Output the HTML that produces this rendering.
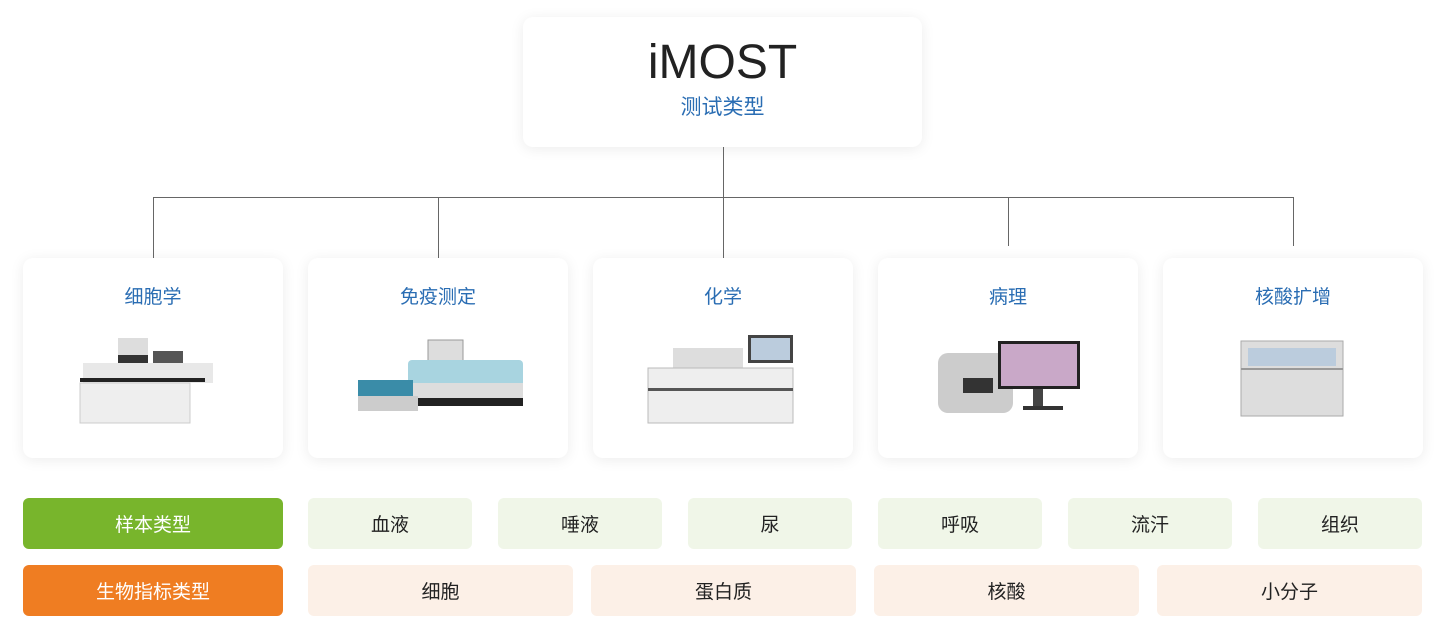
<!DOCTYPE html>
<html><head><meta charset="utf-8"><style>
*{margin:0;padding:0;box-sizing:border-box}
body{width:1446px;height:617px;background:#fff;position:relative;overflow:hidden;font-family:"Liberation Sans","Noto Sans CJK SC",sans-serif}
.a{position:absolute}
.card{position:absolute;background:#fff;border-radius:10px;box-shadow:0 2px 14px rgba(0,0,0,0.08)}
.t{position:absolute;left:0;right:0;text-align:center;color:#2a6db3;font-size:19px}
.chip{position:absolute;border-radius:6px;display:flex;align-items:center;justify-content:center;font-size:19px;color:#222}
.g{background:#f0f6e8}.o{background:#fcf0e7}
.ln{position:absolute;background:#666}
</style></head><body>
<div class="card" style="left:523px;top:17px;width:399px;height:130px">
<div class="t" style="top:18px;font-size:48px;color:#222;font-weight:300">iMOST</div>
<div class="t" style="top:74px;font-size:21px">测试类型</div>
</div>
<div class="ln" style="left:723px;top:147px;width:1px;height:50px"></div>
<div class="ln" style="left:153px;top:197px;width:1141px;height:1px"></div>
<div class="ln" style="left:153px;top:197px;width:1px;height:61px"></div>
<div class="ln" style="left:438px;top:197px;width:1px;height:61px"></div>
<div class="ln" style="left:723px;top:197px;width:1px;height:61px"></div>
<div class="ln" style="left:1008px;top:197px;width:1px;height:49px"></div>
<div class="ln" style="left:1293px;top:197px;width:1px;height:49px"></div>

<div class="card" style="left:23px;top:258px;width:260px;height:200px"><div class="t" style="top:24px">细胞学</div>
<svg class="a" style="left:55px;top:75px" width="150" height="100"><rect x="40" y="5" width="30" height="25" fill="#ddd"/><rect x="40" y="22" width="30" height="22" fill="#333"/><rect x="75" y="18" width="30" height="20" fill="#555"/><rect x="5" y="30" width="130" height="20" fill="#e8e8e8"/><rect x="2" y="45" width="125" height="4" fill="#222"/><rect x="2" y="50" width="110" height="40" fill="#eee" stroke="#ccc"/></svg></div>
<div class="card" style="left:308px;top:258px;width:260px;height:200px"><div class="t" style="top:24px">免疫测定</div>
<svg class="a" style="left:45px;top:80px" width="175" height="85"><rect x="75" y="2" width="35" height="28" fill="#ddd" stroke="#999"/><rect x="55" y="22" width="115" height="30" rx="4" fill="#a8d4e0"/><rect x="55" y="45" width="115" height="20" fill="#ddd"/><rect x="55" y="60" width="115" height="8" fill="#222"/><rect x="5" y="42" width="55" height="20" fill="#3a8ca8"/><rect x="5" y="58" width="60" height="15" fill="#ccc"/></svg></div>
<div class="card" style="left:593px;top:258px;width:260px;height:200px"><div class="t" style="top:24px">化学</div>
<svg class="a" style="left:50px;top:75px" width="170" height="95"><rect x="105" y="2" width="45" height="28" fill="#444"/><rect x="108" y="5" width="39" height="22" fill="#bcd"/><rect x="30" y="15" width="70" height="25" fill="#ddd"/><rect x="5" y="35" width="145" height="55" fill="#eee" stroke="#bbb"/><rect x="5" y="55" width="145" height="3" fill="#555"/></svg></div>
<div class="card" style="left:878px;top:258px;width:260px;height:200px"><div class="t" style="top:24px">病理</div>
<svg class="a" style="left:55px;top:80px" width="160" height="80"><rect x="5" y="15" width="75" height="60" rx="10" fill="#ccc"/><rect x="30" y="40" width="30" height="15" fill="#333"/><rect x="65" y="3" width="82" height="48" fill="#222"/><rect x="68" y="6" width="76" height="42" fill="#c9a8c8"/><rect x="100" y="51" width="10" height="18" fill="#444"/><rect x="90" y="68" width="40" height="4" fill="#333"/></svg></div>
<div class="card" style="left:1163px;top:258px;width:260px;height:200px"><div class="t" style="top:24px">核酸扩增</div>
<svg class="a" style="left:75px;top:80px" width="110" height="80"><rect x="3" y="3" width="102" height="75" fill="#ddd" stroke="#aaa"/><rect x="10" y="10" width="88" height="18" fill="#bcd"/><rect x="3" y="30" width="102" height="2" fill="#999"/></svg></div>

<div class="chip" style="left:23px;top:498px;width:260px;height:51px;background:#78b52c;color:#fff">样本类型</div>
<div class="chip g" style="left:308px;top:498px;width:164px;height:51px">血液</div>
<div class="chip g" style="left:498px;top:498px;width:164px;height:51px">唾液</div>
<div class="chip g" style="left:688px;top:498px;width:164px;height:51px">尿</div>
<div class="chip g" style="left:878px;top:498px;width:164px;height:51px">呼吸</div>
<div class="chip g" style="left:1068px;top:498px;width:164px;height:51px">流汗</div>
<div class="chip g" style="left:1258px;top:498px;width:164px;height:51px">组织</div>
<div class="chip" style="left:23px;top:565px;width:260px;height:51px;background:#ef7d22;color:#fff">生物指标类型</div>
<div class="chip o" style="left:308px;top:565px;width:265px;height:51px">细胞</div>
<div class="chip o" style="left:591px;top:565px;width:265px;height:51px">蛋白质</div>
<div class="chip o" style="left:874px;top:565px;width:265px;height:51px">核酸</div>
<div class="chip o" style="left:1157px;top:565px;width:265px;height:51px">小分子</div>
</body></html>
